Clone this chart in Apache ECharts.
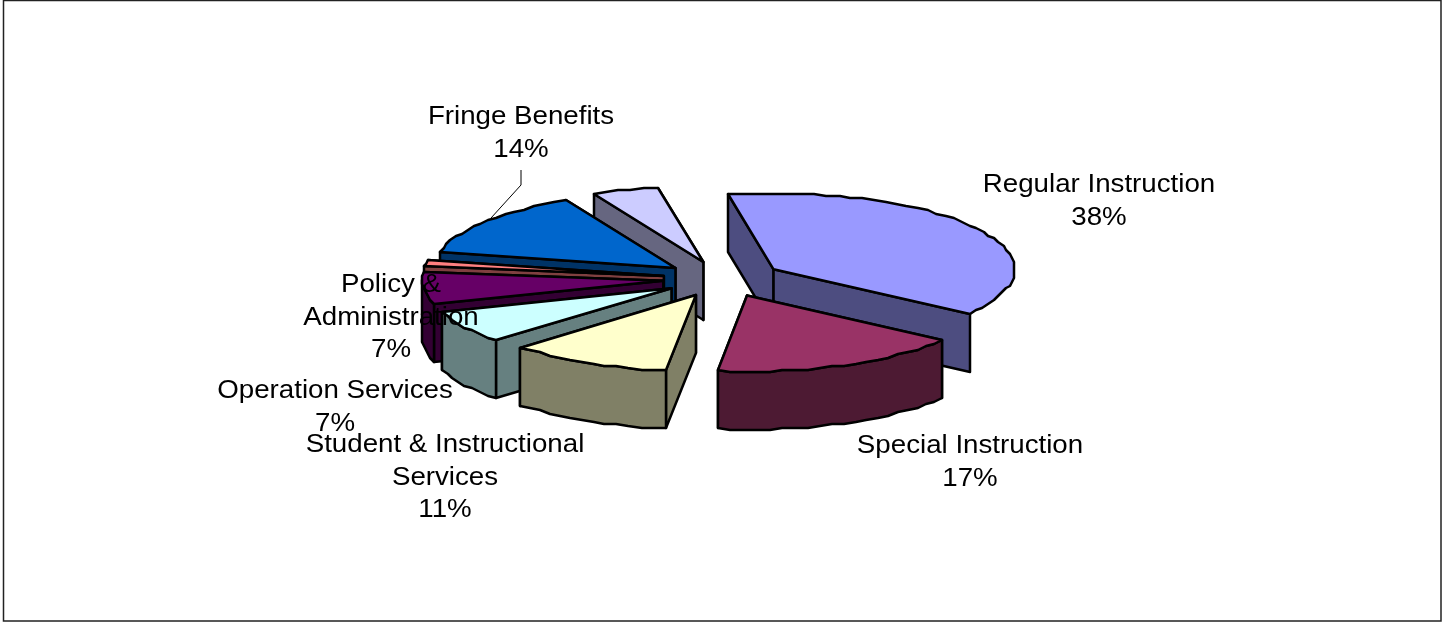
<!DOCTYPE html>
<html>
<head>
<meta charset="utf-8">
<style>html,body{margin:0;padding:0;background:#fff}#chart{width:1442px;height:622px}</style>
<script src="https://cdn.jsdelivr.net/npm/echarts@6/dist/echarts.min.js"></script>
</head>
<body>
<div id="chart"></div>
<script>
// Budget shares, clockwise from the first slice. Two thin slices carry no label.
const categories = ['Regular Instruction', 'Special Instruction', 'Student & Instructional\nServices',
  'Operation Services', 'Policy &\nAdministration', '', 'Fringe Benefits', ''];
const shares = [38, 17, 11, 7, 7, 1.5, 14, 4.5];
const topColors = ['#9999FF', '#993366', '#FFFFCC', '#CCFFFF', '#660066', '#FF8080', '#0066CC', '#CCCCFF'];
const sideColors = ['#4D4D80', '#4D1A33', '#808066', '#668080', '#330033', '#804040', '#003366', '#666680'];
// Back-to-front painting order of the slices.
const paintOrder = [7, 6, 5, 4, 3, 2, 0, 1];
// Label centres (x, y of the first line's top).
const labelAnchors = [[1099, 169], [970, 430], [445, 429], [335, 375], [391, 269], null, [521, 101], null];

const PIE = { cx: 723, cy: 279, rx: 241, ry: 76, depth: 58, explode: 60, startDeg: 349 };
const FONT = '26px "Liberation Sans", Arial, sans-serif';
const LABEL_STRETCH = 1.065;
const total = shares.reduce((s, v) => s + v, 0);
const RAD = Math.PI / 180;
const GRID = 2;   // outline coordinates are quantised, giving the rim its coarse stepped look

function snap(p) { return [Math.round(p[0] / GRID) * GRID, Math.round(p[1] / GRID) * GRID]; }

function sliceAngles(i) {
  let a = PIE.startDeg;
  for (let k = 0; k < i; k++) a += shares[k] / total * 360;
  return [a, a + shares[i] / total * 360];
}

function renderSlice(params, api) {
  const i = params.dataIndex;
  const [a0, a1] = sliceAngles(i);
  const mid = (a0 + a1) / 2 * RAD;
  const apex = [PIE.cx + PIE.explode * Math.sin(mid),
                PIE.cy - PIE.explode * 0.3 * Math.cos(mid)];
  const rim = d => snap([apex[0] + PIE.rx * Math.sin(d * RAD), apex[1] - PIE.ry * Math.cos(d * RAD)]);
  const down = p => [p[0], p[1] + PIE.depth];
  const arc = (from, to) => {
    const n = Math.max(1, Math.round((to - from) / 3));
    const pts = [];
    for (let k = 0; k <= n; k++) pts.push(rim(from + (to - from) * k / n));
    return pts;
  };

  const order = paintOrder.indexOf(i) * 10;
  const face = (points, fill, z) => ({
    type: 'polygon', z2: order + z, shape: { points },
    style: { fill, stroke: '#000', lineWidth: 2.5, lineJoin: 'round' }
  });
  const children = [];
  const start = rim(a0), end = rim(a1);
  const side = sideColors[i];

  // Radial walls, the farther one first, then the visible part of the outer wall, then the top.
  const walls = [[start, face([apex, start, down(start), down(apex)], side, 1)],
                 [end, face([apex, end, down(end), down(apex)], side, 1)]];
  walls.sort((p, q) => p[0][1] - q[0][1]);
  walls[0][1].z2 = order + 1;
  walls[1][1].z2 = order + 2;
  children.push(walls[0][1], walls[1][1]);

  const from = Math.max(a0 % 360, 90), to = Math.min(a0 % 360 + (a1 - a0), 270);
  if (to > from) {
    const outer = arc(from, to);
    children.push(face(outer.concat(outer.map(down).reverse()), side, 3));
  }
  children.push(face([apex].concat(arc(a0, a1)), topColors[i], 4));

  if (labelAnchors[i]) {
    const pct = Math.round(api.value(0) / total * 100);
    children.push({
      type: 'text', z2: 1000,
      x: labelAnchors[i][0], y: labelAnchors[i][1], scaleX: LABEL_STRETCH,
      style: {
        text: categories[i] + '\n' + pct + '%',
        x: 0, y: 0,
        textAlign: 'center', textVerticalAlign: 'top',
        font: FONT, lineHeight: 32.5, fill: '#000'
      }
    });
  }
  // Fringe Benefits sits away from its slice, so it gets a leader line.
  if (categories[i] === 'Fringe Benefits') {
    children.push({
      type: 'polyline', z2: 1,
      shape: { points: [[521, 170], [521, 185], [491, 218]] },
      style: { fill: 'none', stroke: '#000', lineWidth: 1 }
    });
  }
  return { type: 'group', children };
}

const chart = echarts.init(document.getElementById('chart'), null, { renderer: 'canvas' });
chart.setOption({
  animation: false,
  backgroundColor: '#fff',
  graphic: [{
    type: 'rect', z: -1, silent: true,
    shape: { x: 3.5, y: 0.5, width: 1437.5, height: 620.5 },
    style: { fill: '#fff', stroke: '#222', lineWidth: 1.5 }
  }],
  series: [{
    type: 'custom',
    coordinateSystem: 'none',
    renderItem: renderSlice,
    data: shares.map((v, i) => ({ name: categories[i], value: [v] }))
  }]
});
</script>
</body>
</html>
